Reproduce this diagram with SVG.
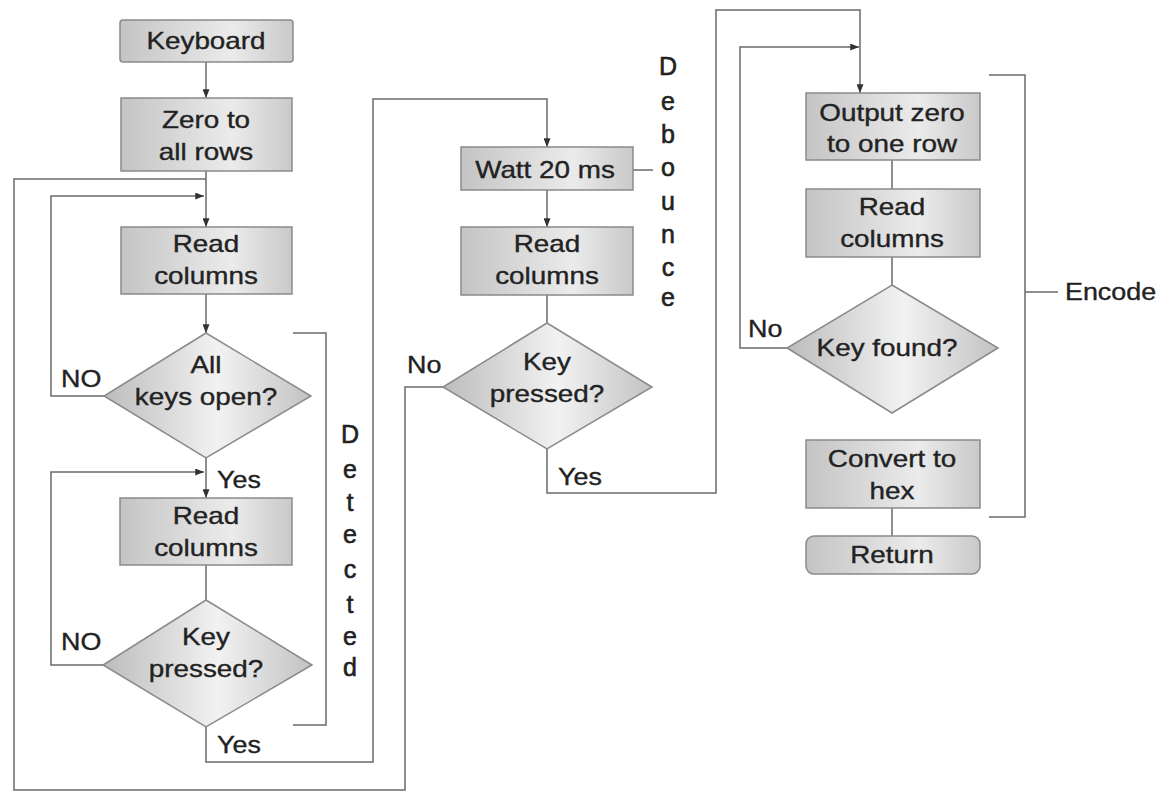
<svg xmlns="http://www.w3.org/2000/svg" width="1165" height="792" viewBox="0 0 1165 792">
  <defs>
    <linearGradient id="boxFill" x1="0" y1="0" x2="1" y2="0">
      <stop offset="0" stop-color="#c4c4c4"/>
      <stop offset="0.65" stop-color="#ebebeb"/>
      <stop offset="1" stop-color="#c9c9c9"/>
    </linearGradient>
    <linearGradient id="diaFill" x1="0" y1="0" x2="1" y2="0">
      <stop offset="0" stop-color="#bcbcbc"/>
      <stop offset="0.55" stop-color="#f2f2f2"/>
      <stop offset="1" stop-color="#c2c2c2"/>
    </linearGradient>
    <marker id="arrow" viewBox="0 0 10 8" refX="10" refY="4" markerWidth="10" markerHeight="7" markerUnits="userSpaceOnUse" orient="auto">
      <path d="M0,0 L10,4 L0,8 Z" fill="#333"/>
    </marker>
  </defs>
  <style>
    .box { fill: url(#boxFill); stroke: #8a8a8a; stroke-width: 1.5; }
    .dia { fill: url(#diaFill); stroke: #8a8a8a; stroke-width: 1.5; }
    .ln { fill: none; stroke: #6a6a6a; stroke-width: 1.5; }
    .arr { marker-end: url(#arrow); }
    text { font-family: "Liberation Sans", Arial, sans-serif; font-size: 24px; fill: #222; stroke: #222; stroke-width: 0.35; }
    .c { text-anchor: middle; }
    .v { font-size: 25px; stroke-width: 0.6; }
  </style>

  <rect width="1165" height="792" fill="#ffffff"/>

  <!-- connectors -->
  <g id="connectors">
    <path class="ln arr" d="M206,62 V98"/>
    <path class="ln arr" d="M206,171 V227"/>
    <path class="ln arr" d="M206,294 V333"/>
    <path class="ln arr" d="M206,458 V498"/>
    <path class="ln" d="M206,565 V600"/>
    <!-- NO from "All keys open?" -->
    <path class="ln arr" d="M104,396 H51 V196 H204"/>
    <!-- NO from first "Key pressed?" -->
    <path class="ln arr" d="M103,665 H51 V472 H204"/>
    <!-- Yes: to debounce -->
    <path class="ln arr" d="M206,727 V762 H373 V99 H547 V147"/>
    <!-- No from debounce check: back to Read columns -->
    <path class="ln" d="M443,387 H405 V790 H14 V179 H206"/>
    <path class="ln arr" d="M547,190 V227"/>
    <path class="ln" d="M547,295 V323"/>
    <!-- Yes: to encode -->
    <path class="ln arr" d="M547,449 V493 H716 V10 H860 V93"/>
    <!-- No from "Key found?" -->
    <path class="ln arr" d="M787,348 H740 V47 H859"/>
    <path class="ln" d="M892,160 V189"/>
    <path class="ln" d="M892,257 V285"/>
    <path class="ln" d="M892,508 V536"/>
  </g>

  <!-- brackets -->
  <g id="detected">
    <path class="ln" d="M293,333 H326 V725 H293"/>
    <text class="c v" x="350" y="443">D</text>
    <text class="c v" x="350" y="478">e</text>
    <text class="c v" x="350" y="511">t</text>
    <text class="c v" x="350" y="543">e</text>
    <text class="c v" x="350" y="578">c</text>
    <text class="c v" x="350" y="613">t</text>
    <text class="c v" x="350" y="645">e</text>
    <text class="c v" x="350" y="676">d</text>
  </g>
  <g id="debounce">
    <path class="ln" d="M633,170 H653"/>
    <text class="c v" x="668" y="75">D</text>
    <text class="c v" x="668" y="110">e</text>
    <text class="c v" x="668" y="143">b</text>
    <text class="c v" x="668" y="176">o</text>
    <text class="c v" x="668" y="210">u</text>
    <text class="c v" x="668" y="243">n</text>
    <text class="c v" x="668" y="276">c</text>
    <text class="c v" x="668" y="306">e</text>
  </g>
  <g id="encode">
    <path class="ln" d="M989,75 H1025 V517 H989"/>
    <path class="ln" d="M1025,292 H1058"/>
    <text transform="translate(1065,300) scale(1.12,1)">Encode</text>
  </g>

  <!-- branch labels -->
  <g id="labels">
    <text transform="translate(61,387) scale(1.12,1)">NO</text>
    <text transform="translate(61,650) scale(1.12,1)">NO</text>
    <text transform="translate(217,488) scale(1.12,1)">Yes</text>
    <text transform="translate(217,753) scale(1.12,1)">Yes</text>
    <text transform="translate(407,373) scale(1.12,1)">No</text>
    <text transform="translate(558,485) scale(1.12,1)">Yes</text>
    <text transform="translate(748,337) scale(1.12,1)">No</text>
  </g>

  <!-- left column -->
  <g id="keyboard">
    <rect class="box" x="120" y="20" width="173" height="42" rx="3"/>
    <text class="c" transform="translate(206,49) scale(1.16,1)">Keyboard</text>
  </g>
  <g id="zero-all-rows">
    <rect class="box" x="121" y="98" width="171" height="73"/>
    <text class="c" transform="translate(206,128) scale(1.16,1)"><tspan x="0" y="0">Zero to</tspan><tspan x="0" y="32">all rows</tspan></text>
  </g>
  <g id="read-columns-1">
    <rect class="box" x="121" y="227" width="171" height="67"/>
    <text class="c" transform="translate(206,252) scale(1.16,1)"><tspan x="0" y="0">Read</tspan><tspan x="0" y="32">columns</tspan></text>
  </g>
  <g id="all-keys-open">
    <polygon class="dia" points="206,333 311,396 206,458 104,396"/>
    <text class="c" transform="translate(206,373) scale(1.16,1)"><tspan x="0" y="0">All</tspan><tspan x="0" y="32">keys open?</tspan></text>
  </g>
  <g id="read-columns-2">
    <rect class="box" x="120" y="498" width="172" height="67"/>
    <text class="c" transform="translate(206,524) scale(1.16,1)"><tspan x="0" y="0">Read</tspan><tspan x="0" y="32">columns</tspan></text>
  </g>
  <g id="key-pressed-1">
    <polygon class="dia" points="206,600 312,665 206,727 103,665"/>
    <text class="c" transform="translate(206,645) scale(1.16,1)"><tspan x="0" y="0">Key</tspan><tspan x="0" y="32">pressed?</tspan></text>
  </g>

  <!-- middle column -->
  <g id="wait-20ms">
    <rect class="box" x="461" y="147" width="172" height="43"/>
    <text class="c" transform="translate(545,178) scale(1.16,1)">Watt 20 ms</text>
  </g>
  <g id="read-columns-3">
    <rect class="box" x="461" y="227" width="172" height="68"/>
    <text class="c" transform="translate(547,252) scale(1.16,1)"><tspan x="0" y="0">Read</tspan><tspan x="0" y="32">columns</tspan></text>
  </g>
  <g id="key-pressed-2">
    <polygon class="dia" points="547,323 652,387 547,449 443,387"/>
    <text class="c" transform="translate(547,370) scale(1.16,1)"><tspan x="0" y="0">Key</tspan><tspan x="0" y="32">pressed?</tspan></text>
  </g>

  <!-- right column -->
  <g id="output-zero">
    <rect class="box" x="806" y="93" width="174" height="67"/>
    <text class="c" transform="translate(892,121) scale(1.16,1)"><tspan x="0" y="0">Output zero</tspan><tspan x="0" y="31">to one row</tspan></text>
  </g>
  <g id="read-columns-4">
    <rect class="box" x="806" y="189" width="174" height="68"/>
    <text class="c" transform="translate(892,215) scale(1.16,1)"><tspan x="0" y="0">Read</tspan><tspan x="0" y="32">columns</tspan></text>
  </g>
  <g id="key-found">
    <polygon class="dia" points="892,285 998,348 892,413 787,348"/>
    <text class="c" transform="translate(887,356) scale(1.16,1)">Key found?</text>
  </g>
  <g id="convert-hex">
    <rect class="box" x="806" y="440" width="174" height="68"/>
    <text class="c" transform="translate(892,467) scale(1.16,1)"><tspan x="0" y="0">Convert to</tspan><tspan x="0" y="32">hex</tspan></text>
  </g>
  <g id="return">
    <rect class="box" x="806" y="536" width="174" height="38" rx="8"/>
    <text class="c" transform="translate(892,563) scale(1.16,1)">Return</text>
  </g>
</svg>
